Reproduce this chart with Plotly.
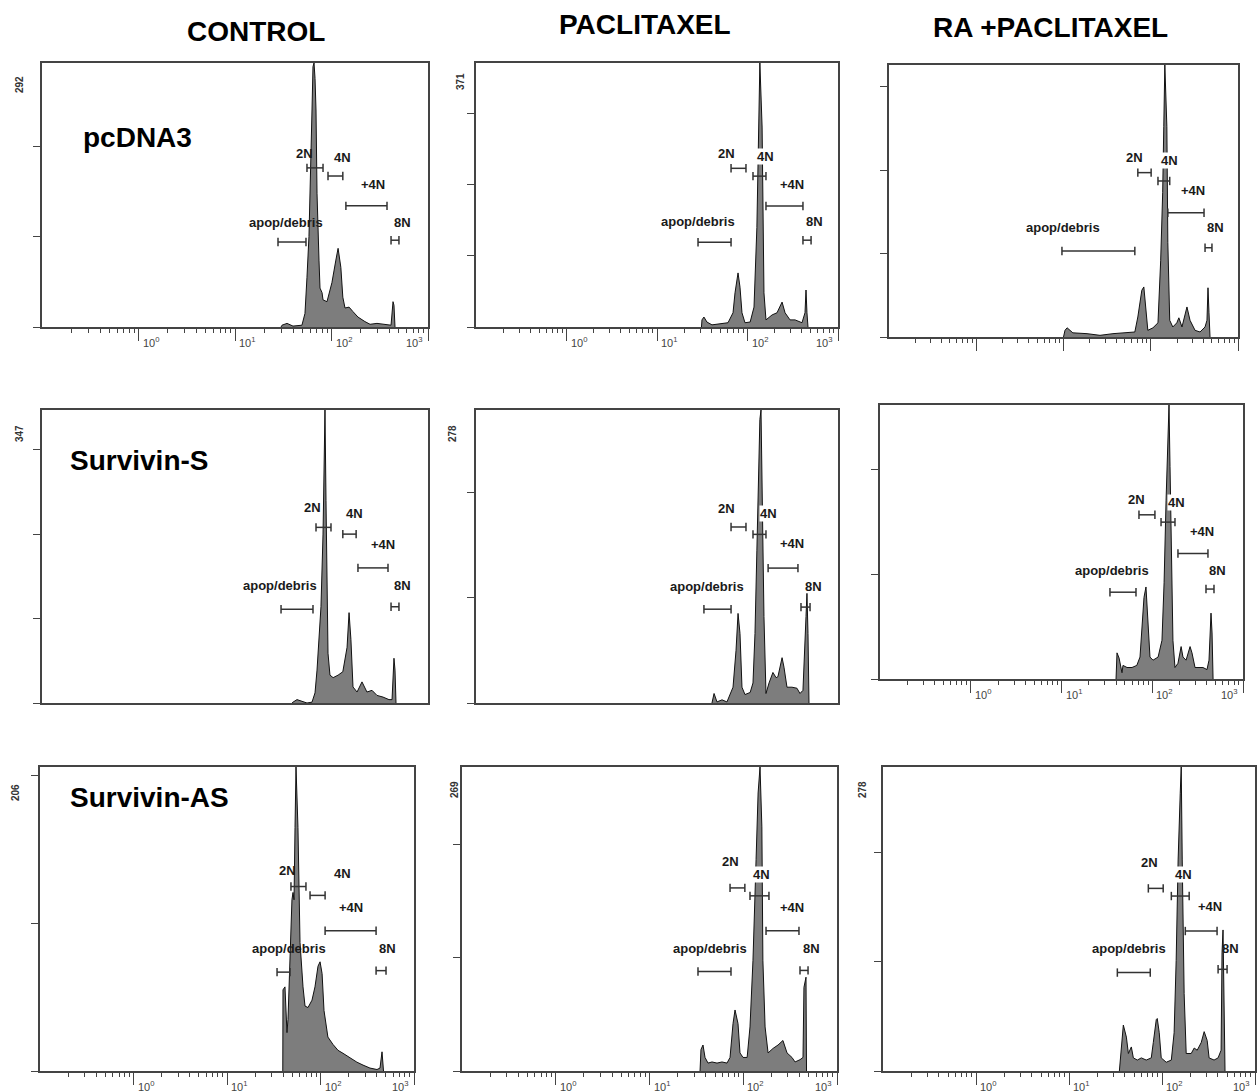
import math
import plotly.graph_objects as go

# ---------------- data ----------------
COLUMN_TITLES = ["CONTROL", "PACLITAXEL", "RA +PACLITAXEL"]
ROW_LABELS = ["pcDNA3", "Survivin-S", "Survivin-AS"]
GATE_NAMES = ["2N", "4N", "+4N", "apop/debris", "8N"]

# y-axis maximum (counts) per panel (row-major), and printed max label
Y_MAX = [292, 371, 326, 347, 278, 262, 206, 269, 278]
Y_MAX_TEXT = ["292", "371", None, "347", "278", None, "206", "269", "278"]

# DNA content histograms (channel value, counts)
CTRL_PCDNA3_X = [30, 30.7, 34.6, 39.9, 49.4, 53.1, 55.7, 58.4, 62.8, 64.3, 65.9, 67.5, 69.1, 70.8, 74.2, 76.0, 79.8, 81.7,
                 89.8, 101, 111, 117, 125, 131, 138, 152, 167, 188, 222, 251, 296, 358, 414, 434, 444, 455]
CTRL_PCDNA3_Y = [0, 2, 4, 1, 2, 15, 55, 100, 240, 288, 292, 275, 240, 148, 74, 43, 38, 30,
                 28, 49, 74, 87, 66, 33, 21, 22, 17, 11, 6, 3, 4, 3, 2, 28, 24, 0]

PAC_PCDNA3_X = [31.0, 31.4, 33.0, 35.6, 40.5, 49.7, 60.9, 69.2, 72.8, 78.6, 82.6, 86.9, 93.8, 107, 118, 127, 131, 134,
                137, 145, 148, 152, 160, 187, 212, 229, 241, 260, 295, 335, 400, 432, 443, 454, 466]
PAC_PCDNA3_Y = [0, 10, 14, 7, 3, 4, 6, 20, 48, 76, 56, 20, 6, 7, 28, 140, 235, 315,
                371, 281, 140, 48, 10, 17, 20, 28, 35, 20, 10, 10, 6, 20, 52, 20, 0]

RA_PCDNA3_X = [10.0, 10.4, 11.0, 12.8, 18.6, 26.2, 36.9, 53.4, 65.7, 71.1, 79.0, 83.3, 87.8, 92.6, 106, 121, 130, 137,
               141, 145, 153, 157, 165, 179, 199, 210, 228, 247, 260, 282, 322, 367, 419, 441, 453, 465, 478]
RA_PCDNA3_Y = [0, 8, 11, 5, 4, 2, 4, 5, 6, 24, 56, 60, 36, 8, 11, 17, 92, 173,
               252, 326, 252, 113, 20, 12, 17, 23, 12, 29, 36, 20, 8, 6, 12, 20, 59, 29, 0]

CTRL_SURV_S_X = [39.0, 39.9, 43.9, 55.7, 62.8, 67.5, 70.8, 74.2, 77.8, 81.7, 83.6, 85.6, 87.7, 89.8, 92.0, 96.4, 104,
                 117, 131, 145, 152, 159, 167, 184, 207, 233, 263, 296, 342, 394, 424, 444, 455, 466]
CTRL_SURV_S_Y = [0, 1, 4, 0, 1, 12, 39, 71, 114, 200, 300, 347, 240, 121, 59, 33, 30,
                 33, 37, 66, 107, 75, 19, 13, 25, 13, 15, 9, 7, 4, 4, 53, 39, 0]

PAC_SURV_S_X = [40.5, 42.7, 46.0, 52.3, 59.3, 64.1, 69.2, 74.7, 78.6, 82.6, 86.9, 93.8, 107, 115, 121, 127, 131, 137,
                141, 145, 152, 160, 173, 191, 207, 217, 241, 253, 273, 310, 352, 380, 410, 443, 454, 466, 478]
PAC_SURV_S_Y = [0, 9, 1, 3, 1, 8, 15, 50, 85, 66, 15, 8, 10, 19, 66, 145, 209, 269,
                278, 209, 82, 9, 19, 29, 24, 25, 43, 34, 15, 15, 14, 9, 12, 82, 104, 66, 0]

RA_SURV_S_X = [39.9, 40.9, 43.1, 46.4, 47.6, 52.7, 59.8, 67.6, 73.3, 77.1, 81.1, 85.3, 89.8, 94.4, 102, 116, 128, 135,
               142, 149, 153, 157, 165, 169, 178, 192, 208, 218, 236, 261, 274, 296, 336, 362, 401, 422, 444, 456, 468]
RA_SURV_S_Y = [0, 25, 20, 6, 13, 11, 11, 13, 21, 50, 78, 88, 59, 21, 18, 21, 37, 92,
               171, 235, 262, 203, 107, 37, 11, 15, 31, 21, 18, 31, 25, 11, 11, 11, 9, 18, 63, 44, 0]

CTRL_SURV_AS_X = [39.5, 39.7, 41.7, 43.8, 44.9, 47.2, 49.5, 50.8, 52.1, 53.4, 54.7, 57.4, 60.4, 65.0, 68.3, 73.5, 81.1,
                  87.3, 94.0, 98.9, 104, 109, 120, 136, 154, 174, 207, 245, 285, 338, 402, 433, 455, 466, 472]
CTRL_SURV_AS_Y = [0, 55, 57, 26, 35, 75, 116, 121, 116, 165, 206, 165, 87, 57, 44, 43, 48,
                  57, 71, 74, 66, 41, 23, 18, 14, 12, 9, 6, 4, 2, 1, 2, 13, 7, 0]

PAC_SURV_AS_X = [34.6, 35.4, 37.2, 39.1, 42.1, 46.4, 52.5, 59.3, 67.1, 72.3, 77.8, 81.7, 87.9, 92.3, 99.4, 110, 118,
                 127, 137, 144, 151, 158, 162, 171, 184, 208, 235, 265, 293, 331, 357, 403, 434, 444, 467, 473]
PAC_SURV_AS_Y = [0, 19, 23, 12, 7, 8, 7, 8, 7, 12, 42, 54, 42, 16, 12, 12, 39,
                 98, 187, 246, 269, 216, 98, 39, 16, 20, 23, 27, 16, 12, 8, 10, 12, 74, 83, 0]

RA_SURV_AS_X = [34.8, 36.6, 38.4, 41.4, 43.5, 46.8, 49.2, 54.3, 59.9, 67.7, 76.7, 80.6, 86.8, 88.9, 93.4, 98.1, 111,
                126, 135, 142, 149, 157, 161, 165, 173, 182, 206, 222, 239, 264, 284, 306, 321, 363, 401, 432, 442,
                453, 465, 476]
RA_SURV_AS_Y = [0, 19, 42, 31, 16, 22, 12, 10, 12, 10, 12, 26, 47, 48, 35, 12, 8,
                10, 35, 101, 193, 254, 278, 193, 71, 16, 16, 21, 19, 26, 36, 28, 12, 10, 12, 19, 108,
                129, 71, 0]

HIST_X = [CTRL_PCDNA3_X, PAC_PCDNA3_X, RA_PCDNA3_X,
          CTRL_SURV_S_X, PAC_SURV_S_X, RA_SURV_S_X,
          CTRL_SURV_AS_X, PAC_SURV_AS_X, RA_SURV_AS_X]
HIST_Y = [CTRL_PCDNA3_Y, PAC_PCDNA3_Y, RA_PCDNA3_Y,
          CTRL_SURV_S_Y, PAC_SURV_S_Y, RA_SURV_S_Y,
          CTRL_SURV_AS_Y, PAC_SURV_AS_Y, RA_SURV_AS_Y]

# gate markers: low / high channel and drawn level (counts), order = GATE_NAMES
GATE_LO = [[55.7, 92, 141, 27.9, 414], [65.8, 115, 160, 28.4, 410], [71.1, 121, 157, 9.6, 419],
           [69.1, 131, 188, 30.0, 414], [65.8, 115, 169, 33.0, 390], [71.4, 125, 192, 34.2, 391],
           [48.3, 77.3, 112, 34.3, 393], [72.3, 118, 175, 32.9, 403], [71.3, 126, 178, 33.1, 401]]
GATE_HI = [[81.7, 131, 376, 54.4, 500], [96.2, 160, 410, 65.8, 504], [101, 165, 408, 65.7, 503],
           [98.8, 180, 385, 64.3, 500], [96.2, 160, 361, 65.8, 491], [107, 178, 411, 66.2, 479],
           [69.9, 112, 393, 47.2, 502], [104, 188, 393, 74.0, 491], [103, 196, 391, 74.8, 501]]
GATE_LEVEL = [[176, 167, 134, 94, 96], [223, 212, 170, 119, 122], [197, 187, 149, 103, 107],
              [208, 200, 160, 111, 114], [167, 160, 128, 89, 91], [157, 150, 120, 83, 86],
              [125, 119, 95, 67, 68], [162, 155, 124, 88, 89], [167, 160, 128, 90, 93]]

# ---------------- layout config ----------------
W, H = 1257, 1092
# plot boxes in pixels: left, right, top, bottom
PANEL_BOX = [(42, 428, 63, 327), (476, 838, 63, 327), (889, 1238, 65, 337),
             (42, 428, 410, 703), (476, 838, 410, 703), (880, 1243, 405, 679),
             (40, 414, 767, 1071), (462, 837, 767, 1071), (883, 1255, 767, 1071)]
X_TICKS_ON = [True, True, True, False, False, True, True, True, True]
X_LABELS_ON = [True, True, False, False, False, True, True, True, True]
MAX_LABEL_POS = [(20, 85), (461, 82), None, (20, 434), (453, 434), None, (15, 793), (454, 790), (862, 790)]
TITLE_POS = [(256, 31), (645, 24), (1050, 27)]
ROW_LABEL_POS = [(137, 137), (139, 460), (149, 797)]
# gate label anchor points (channel, counts)
LABEL_X = [[51.9, 128.5, 269, 33.7, 538], [59.3, 160, 310, 28.4, 543], [64.3, 165, 305, 9.9, 545],
           [62.8, 175, 342, 29.3, 538], [59.3, 169, 310, 35.6, 530], [67.6, 183, 353, 36.0, 517],
           [44.9, 170, 212, 46.0, 527], [74.0, 158, 331, 44.2, 541], [73.0, 169, 329, 44.6, 540]]
LABEL_Y = [[192, 188, 158, 116, 116], [244, 239, 200, 148, 148], [215, 212, 176, 131, 131],
           [231, 225, 188, 139, 139], [185, 180, 151, 111, 111], [172, 169, 141, 104, 104],
           [136, 134, 111, 83, 83], [185, 174, 145, 108, 108], [191, 180, 150, 112, 112]]

FONT = "Liberation Sans, Arial, Helvetica, sans-serif"
AXIS_COLOR = "#444444"
MINOR_TICKS = [m * 10 ** e for e in (-1, 0, 1, 2) for m in range(2, 10)]

fig = go.Figure()
annotations = []

for i in range(9):
    n = "" if i == 0 else str(i + 1)
    xr, yr = "x" + n, "y" + n
    left, right, top, bottom = PANEL_BOX[i]

    fig.add_trace(go.Scatter(
        x=HIST_X[i], y=HIST_Y[i], xaxis=xr, yaxis=yr, mode="lines",
        line=dict(color="#111111", width=1), fill="tozeroy", fillcolor="#7d7d7d",
        showlegend=False, hoverinfo="skip"))

    gx, gy = [], []
    for lo, hi, lv in zip(GATE_LO[i], GATE_HI[i], GATE_LEVEL[i]):
        gx += [lo, hi, None]
        gy += [lv, lv, None]
    fig.add_trace(go.Scatter(
        x=gx, y=gy, xaxis=xr, yaxis=yr, mode="lines+markers",
        line=dict(color="#333333", width=1.5),
        marker=dict(symbol="line-ns", size=6, line=dict(color="#333333", width=1.5)),
        showlegend=False, hoverinfo="skip"))

    for k, name in enumerate(GATE_NAMES):
        ann = dict(x=math.log10(LABEL_X[i][k]), y=LABEL_Y[i][k], xref=xr, yref=yr, text=name,
                   showarrow=False, font=dict(family=FONT, size=13, color="#1a1a1a", weight="bold"),
                   xanchor="center", yanchor="middle")
        if name == "4N":
            ann["bgcolor"] = "white"
            ann["borderpad"] = 0
        annotations.append(ann)

    xaxis = dict(
        domain=[left / W, right / W], anchor=yr, type="log", range=[-1, 3],
        showline=True, mirror=True, linecolor=AXIS_COLOR, linewidth=1.5,
        showgrid=False, zeroline=False, showticklabels=False,
        tickmode="array", tickvals=[1, 10, 100, 1000],
        ticks="outside" if X_TICKS_ON[i] else "", ticklen=12, tickwidth=1, tickcolor=AXIS_COLOR,
    )
    if X_TICKS_ON[i]:
        xaxis["minor"] = dict(tickmode="array", tickvals=MINOR_TICKS, ticks="outside",
                              ticklen=4, tickwidth=1, tickcolor=AXIS_COLOR)
    yaxis = dict(
        domain=[1 - bottom / H, 1 - top / H], anchor=xr, range=[0, Y_MAX[i]],
        showline=True, mirror=True, linecolor=AXIS_COLOR, linewidth=1.5,
        showgrid=False, zeroline=False, showticklabels=False,
        tickmode="array", tickvals=[v for v in (0, 100, 200, 300) if v <= Y_MAX[i]],
        ticks="outside", ticklen=7, tickwidth=1, tickcolor=AXIS_COLOR,
    )
    fig.update_layout({"xaxis" + n: xaxis, "yaxis" + n: yaxis})

    if X_LABELS_ON[i]:
        for d in range(4):
            annotations.append(dict(
                x=d, y=0, xref=xr, yref=yr + " domain", text="10<sup>%d</sup>" % d,
                showarrow=False, font=dict(family=FONT, size=11, color="#444444"),
                xanchor="left" if d < 3 else "right", xshift=2 if d < 3 else -3,
                yanchor="top", yshift=-6))

    if Y_MAX_TEXT[i] is not None:
        px, py = MAX_LABEL_POS[i]
        annotations.append(dict(
            x=px / W, y=1 - py / H, xref="paper", yref="paper", text=Y_MAX_TEXT[i],
            showarrow=False, textangle=-90, font=dict(family=FONT, size=10, color="#333333", weight="bold"),
            xanchor="center", yanchor="middle"))

for t, (px, py) in zip(COLUMN_TITLES, TITLE_POS):
    annotations.append(dict(x=px / W, y=1 - py / H, xref="paper", yref="paper", text=t, showarrow=False,
                            font=dict(family=FONT, size=28, color="#000000", weight="bold"),
                            xanchor="center", yanchor="middle"))

for t, (px, py) in zip(ROW_LABELS, ROW_LABEL_POS):
    annotations.append(dict(x=px / W, y=1 - py / H, xref="paper", yref="paper", text=t, showarrow=False,
                            font=dict(family=FONT, size=28, color="#000000", weight="bold"),
                            xanchor="center", yanchor="middle"))

fig.update_layout(
    width=W, height=H, margin=dict(l=0, r=0, t=0, b=0),
    paper_bgcolor="white", plot_bgcolor="white",
    annotations=annotations, showlegend=False,
)

fig.write_html("out.html", config={"displayModeBar": False},
               post_script="document.body.style.margin='0px';document.body.style.overflow='hidden';")
